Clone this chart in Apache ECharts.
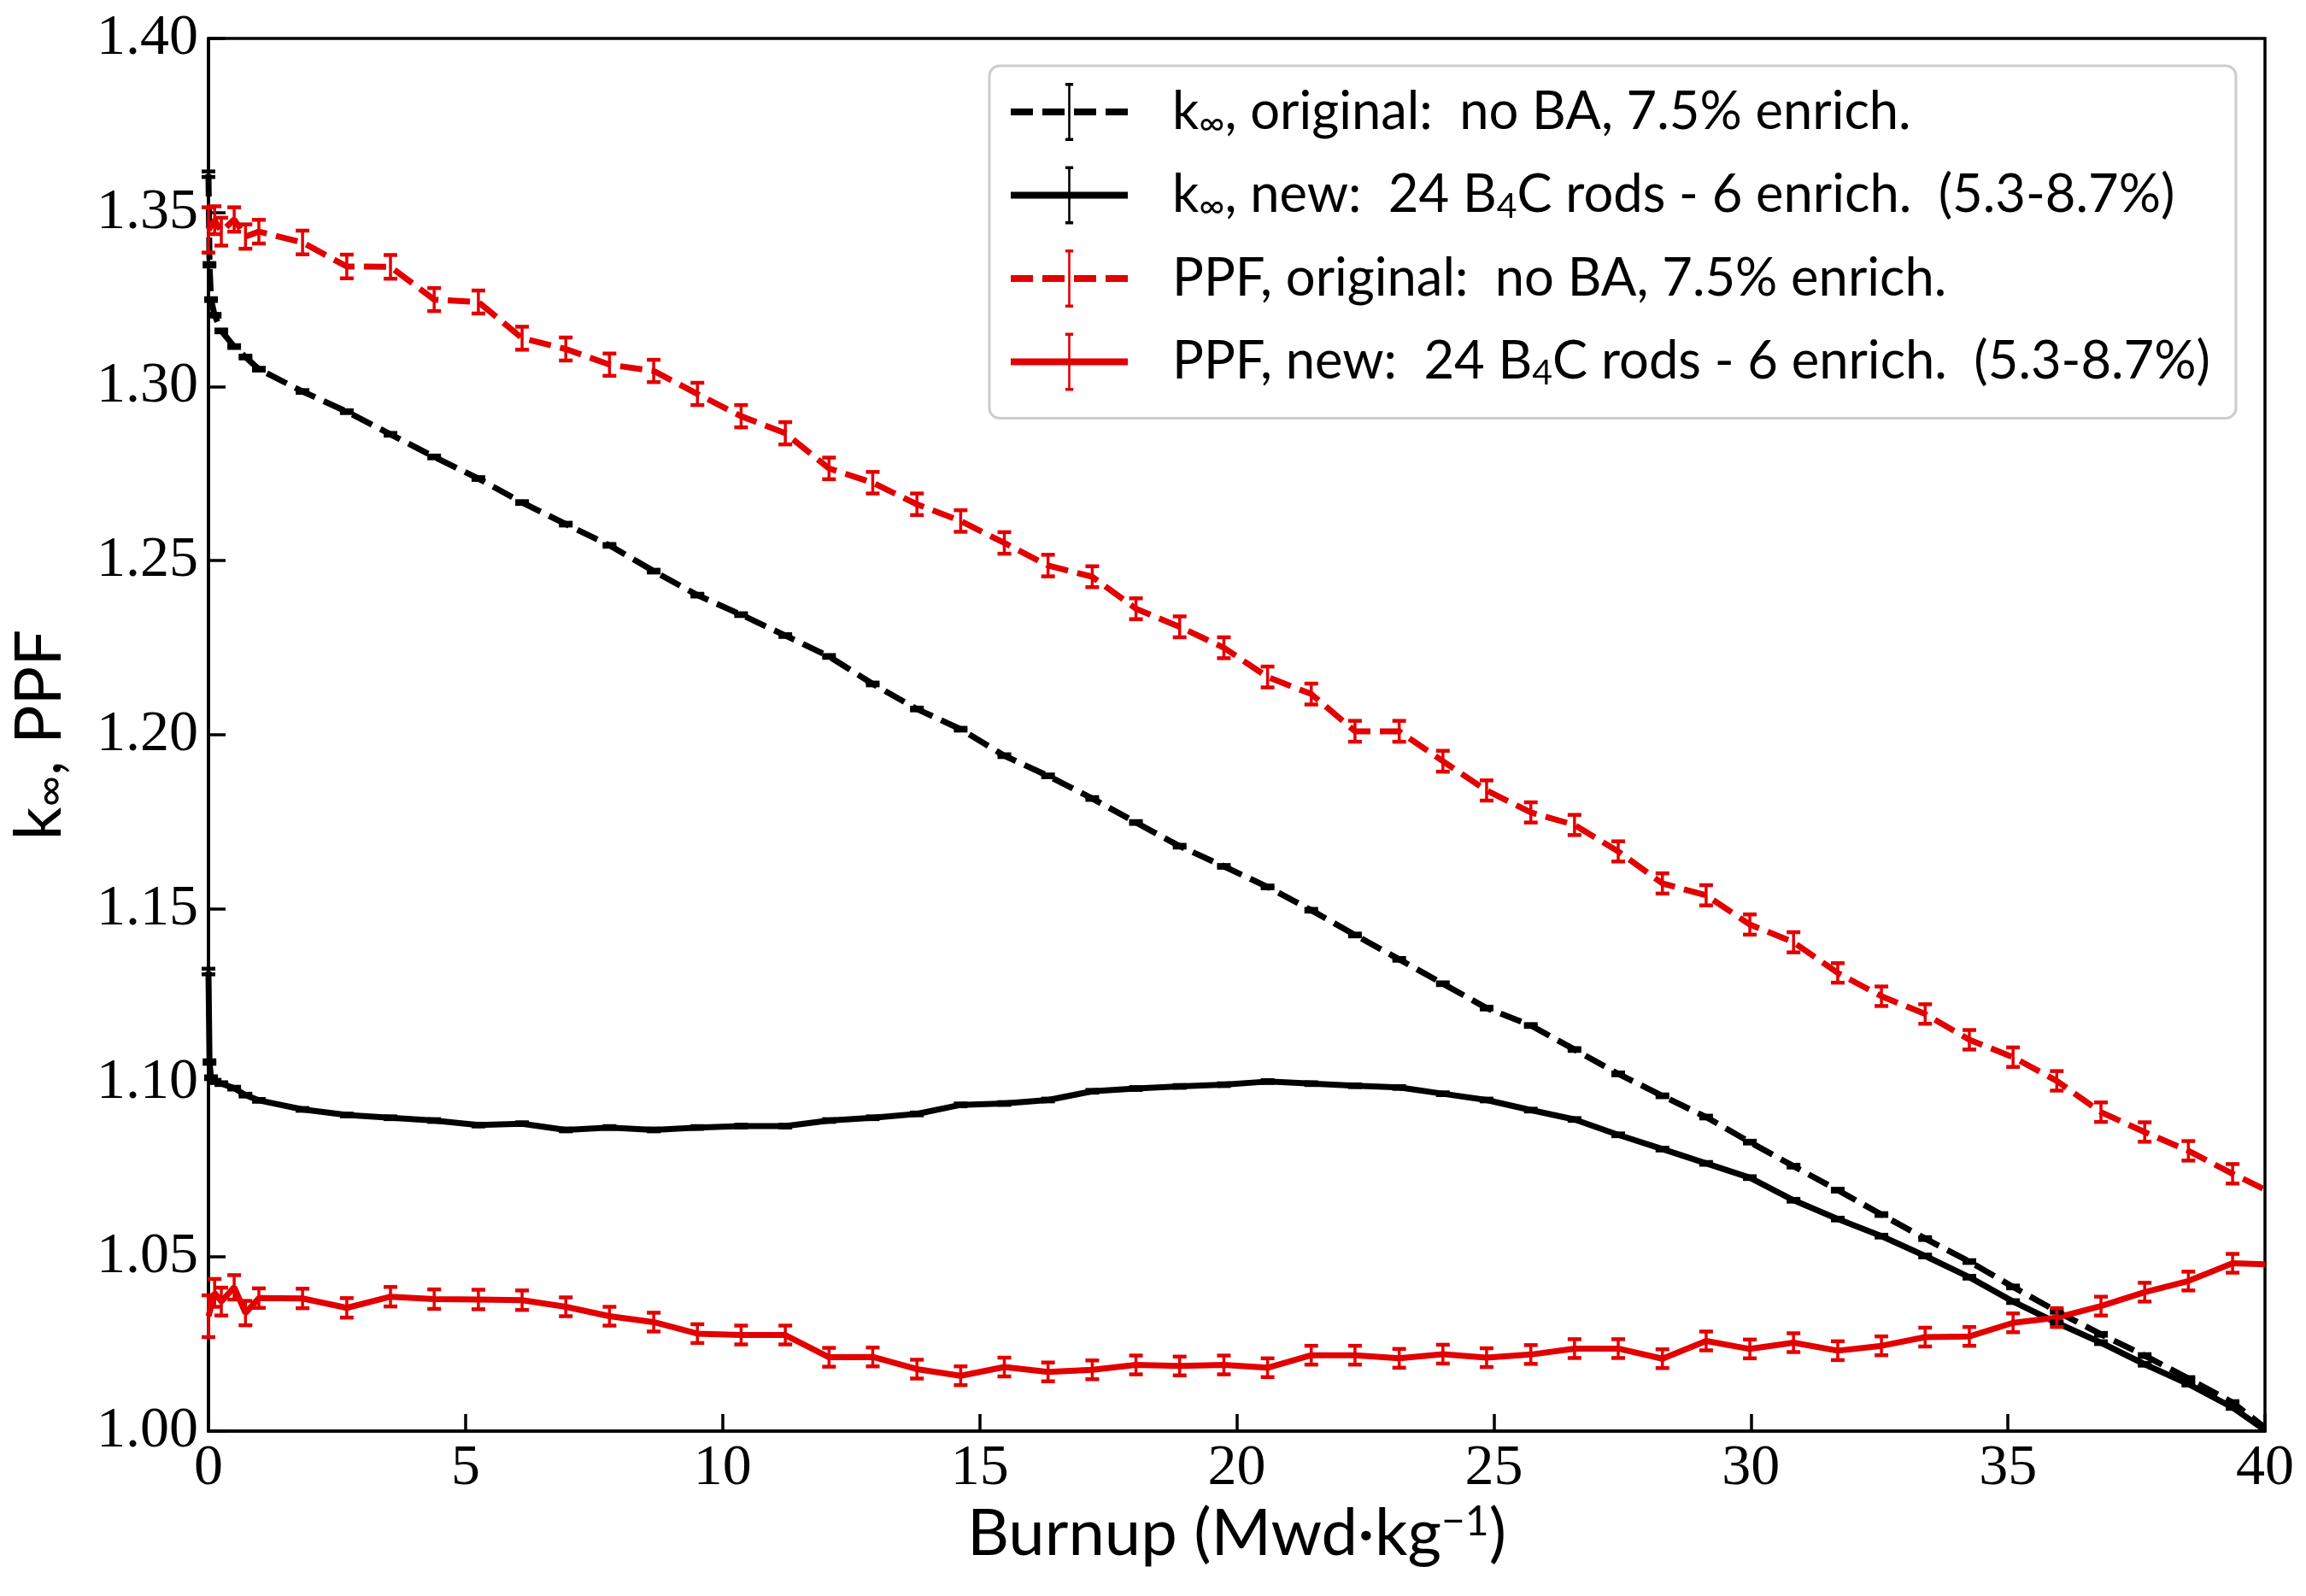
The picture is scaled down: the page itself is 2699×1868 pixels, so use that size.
<!DOCTYPE html>
<html style="height: 100%">

<head>
  <meta charset="utf-8">
</head>

<body style="height: 100%; margin: 0; background: #fff">
  <div id="container" style="width: 2699px; height: 1868px"></div>

  <script type="text/javascript" src="https://cdn.jsdelivr.net/npm/echarts@6/dist/echarts.min.js"></script>
  <script type="text/javascript">
    // burnup points (Mwd/kg)
    var burnupStartK = [0, 0.02, 0.05, 0.12, 0.25, 0.5, 0.72];
    var burnupStartPPF = [0, 0.12, 0.25, 0.5, 0.72];
    var burnupSteps = [0.98, 1.83, 2.69, 3.54, 4.39, 5.25, 6.10, 6.95, 7.80, 8.66, 9.51, 10.36, 11.22, 12.07,
      12.92, 13.78, 14.63, 15.48, 16.33, 17.19, 18.04, 18.89, 19.75, 20.60, 21.45, 22.30, 23.16, 24.01, 24.86,
      25.72, 26.57, 27.42, 28.28, 29.13, 29.98, 30.83, 31.69, 32.54, 33.39, 34.25, 35.10, 35.95, 36.81, 37.66,
      38.51, 39.37, 40.0];

    // k-inf, original (no BA)
    var kOrigStart = [1.361, 1.335, 1.325, 1.3205, 1.316, 1.3115, 1.3085];
    var kOrig = [1.3050, 1.2986, 1.2928, 1.2863, 1.2798, 1.2736, 1.2667, 1.2605, 1.2544, 1.2470, 1.2401, 1.2345,
      1.2285, 1.2225, 1.2146, 1.2074, 1.2016, 1.1940, 1.1882, 1.1817, 1.1748, 1.1680, 1.1622, 1.1563, 1.1496,
      1.1425, 1.1355, 1.1285, 1.1215, 1.1165, 1.1096, 1.1026, 1.0963, 1.0902, 1.0830, 1.0761, 1.0692, 1.0622,
      1.0553, 1.0487, 1.0414, 1.0344, 1.0278, 1.0217, 1.0151, 1.0082, 1.0010];

    // k-inf, new (24 B4C rods)
    var kNewStart = [1.132, 1.106, 1.1015, 1.1005, 1.0998, 1.0985, 1.0965];
    var kNew = [1.0950, 1.0924, 1.0908, 1.0900, 1.0892, 1.0879, 1.0883, 1.0865, 1.0872, 1.0865, 1.0872, 1.0876,
      1.0876, 1.0892, 1.0900, 1.0911, 1.0937, 1.0941, 1.0951, 1.0976, 1.0984, 1.0990, 1.0995, 1.1004, 1.0998,
      1.0992, 1.0987, 1.0969, 1.0951, 1.0922, 1.0895, 1.0851, 1.0810, 1.0769, 1.0728, 1.0663, 1.0609, 1.0560,
      1.0503, 1.0442, 1.0372, 1.0311, 1.0254, 1.0192, 1.0135, 1.0068, 1.0003];

    // PPF, original
    var ppfOrigStart = [1.3450, 1.3478, 1.3445, 1.3480, 1.3431];
    var ppfOrig = [1.3445, 1.3414, 1.3345, 1.3344, 1.3250, 1.3243, 1.3139, 1.3108, 1.3063, 1.3045, 1.2979, 1.2915,
      1.2866, 1.2765, 1.2724, 1.2662, 1.2614, 1.2551, 1.2486, 1.2454, 1.2362, 1.2310, 1.2250, 1.2166, 1.2117,
      1.2010, 1.2010, 1.1924, 1.1840, 1.1777, 1.1741, 1.1665, 1.1573, 1.1539, 1.1455, 1.1404, 1.1316, 1.1249,
      1.1198, 1.1124, 1.1074, 1.1006, 1.0916, 1.0859, 1.0805, 1.0739, 1.0694];

    // PPF, new
    var ppfNewStart = [1.0330, 1.0397, 1.0372, 1.0413, 1.0339];
    var ppfNew = [1.0382, 1.0381, 1.0354, 1.0386, 1.0379, 1.0378, 1.0376, 1.0357, 1.0330, 1.0313, 1.0280, 1.0276,
      1.0276, 1.0212, 1.0213, 1.0178, 1.0159, 1.0184, 1.0170, 1.0176, 1.0190, 1.0187, 1.0190, 1.0182, 1.0218,
      1.0218, 1.0209, 1.0221, 1.0211, 1.0220, 1.0237, 1.0237, 1.0208, 1.0259, 1.0236, 1.0254, 1.0231, 1.0245,
      1.0270, 1.0272, 1.0311, 1.0326, 1.0359, 1.0399, 1.0431, 1.0482, 1.0479];

    // one-sigma errors
    var kErrStart = [0.0008, 0.0005, 0.0004, 0.0004, 0.0004, 0.0004, 0.0004];
    var kErr = [0.0004, 0.0004, 0.0004, 0.0004, 0.0004, 0.0004, 0.0004, 0.0004, 0.0004, 0.0004, 0.0004, 0.0004,
      0.0004, 0.0004, 0.0004, 0.0004, 0.0004, 0.0004, 0.0004, 0.0004, 0.0004, 0.0004, 0.0004, 0.0004, 0.0004,
      0.0004, 0.0004, 0.0004, 0.0004, 0.0004, 0.0004, 0.0004, 0.0004, 0.0004, 0.0004, 0.0004, 0.0004, 0.0004,
      0.0004, 0.0004, 0.0004, 0.0004, 0.0004, 0.0004, 0.0004, 0.0004, 0];
    var ppfOrigErrStart = [0.0065, 0.0040, 0.0040, 0.0035, 0.0035];
    var ppfOrigErr = [0.0034, 0.0034, 0.0034, 0.0034, 0.0033, 0.0033, 0.0033, 0.0033, 0.0032, 0.0032, 0.0032,
      0.0032, 0.0032, 0.0031, 0.0031, 0.0031, 0.0031, 0.0031, 0.0031, 0.0030, 0.0030, 0.0030, 0.0030, 0.0030,
      0.0030, 0.0030, 0.0030, 0.0030, 0.0029, 0.0029, 0.0029, 0.0029, 0.0029, 0.0029, 0.0029, 0.0029, 0.0028,
      0.0028, 0.0028, 0.0028, 0.0028, 0.0028, 0.0028, 0.0028, 0.0028, 0.0028, 0];
    var ppfNewErrStart = [0.0060, 0.0040, 0.0040, 0.0035, 0.0035];
    var ppfNewErr = [0.0028, 0.0028, 0.0028, 0.0028, 0.0028, 0.0028, 0.0028, 0.0027, 0.0027, 0.0027, 0.0027,
      0.0027, 0.0027, 0.0027, 0.0027, 0.0027, 0.0027, 0.0027, 0.0027, 0.0027, 0.0027, 0.0027, 0.0027, 0.0027,
      0.0027, 0.0027, 0.0027, 0.0027, 0.0027, 0.0027, 0.0027, 0.0027, 0.0027, 0.0027, 0.0027, 0.0027, 0.0027,
      0.0027, 0.0027, 0.0027, 0.0027, 0.0027, 0.0027, 0.0027, 0.0027, 0.0027, 0];

    var yTicks = [1.00, 1.05, 1.10, 1.15, 1.20, 1.25, 1.30, 1.35, 1.40];
    var xTicks = [0, 5, 10, 15, 20, 25, 30, 35, 40];

    var seriesNames = ['kOrig', 'kNew', 'ppfOrig', 'ppfNew'];
    var legendLabels = [
      '{sp|}k{sub|∞}, original:  no BA, 7.5% enrich.',
      '{sp|}k{sub|∞}, new:  24 B{sub|4}C rods - 6 enrich.  (5.3-8.7%)',
      '{sp|}PPF, original:  no BA, 7.5% enrich.',
      '{sp|}PPF, new:  24 B{sub|4}C rods - 6 enrich.  (5.3-8.7%)'
    ];

    var RED = '#e20000';
    var BLACK = '#000000';
    var SANS = 'Lato';
    var SERIF = 'Liberation Serif';

    function pairs(xs, ys) {
      return xs.map(function (x, i) { return [x, ys[i]]; });
    }
    function triples(xs, ys, es) {
      return xs.map(function (x, i) { return [x, ys[i], es[i]]; });
    }

    var xK = burnupStartK.concat(burnupSteps);
    var xP = burnupStartPPF.concat(burnupSteps);

    // legend icons: line (solid or dashed) + error bar, drawn in a 137 x 68 box
    var barPath = 'M63.9,0 H73.1 V3.5 H69.8 V64.5 H73.1 V68 H63.9 V64.5 H67.2 V3.5 H63.9 Z';
    var solidIcon = 'path://M0,30 H137 V38 H0 Z ' + barPath;
    var dashIcon = 'path://M0,30 H26 V38 H0 Z M37,30 H63 V38 H37 Z M74,30 H100 V38 H74 Z ' +
      'M111,30 H137 V38 H111 Z ' + barPath;

    function errorBars(color) {
      return function (params, api) {
        var x = api.value(0), y = api.value(1), e = api.value(2);
        if (!e) return;
        var top = api.coord([x, y + e]);
        var bot = api.coord([x, y - e]);
        var hw = 8;
        return {
          type: 'group',
          children: [
            { type: 'line', shape: { x1: top[0], y1: top[1], x2: bot[0], y2: bot[1] }, style: { stroke: color, lineWidth: 3.5 } },
            { type: 'line', shape: { x1: top[0] - hw, y1: top[1], x2: top[0] + hw, y2: top[1] }, style: { stroke: color, lineWidth: 4.5 } },
            { type: 'line', shape: { x1: bot[0] - hw, y1: bot[1], x2: bot[0] + hw, y2: bot[1] }, style: { stroke: color, lineWidth: 4.5 } }
          ]
        };
      };
    }

    function lineSeries(name, color, dashed, data) {
      return {
        name: name,
        type: 'line',
        data: data,
        showSymbol: false,
        symbol: 'circle',
        color: color,
        itemStyle: { color: color },
        lineStyle: { color: color, width: 7, type: dashed ? [26, 11] : 'solid', cap: 'butt' },
        z: 3
      };
    }
    function barSeries(color, data) {
      return {
        type: 'custom',
        renderItem: errorBars(color),
        data: data,
        encode: { x: 0, y: 1 },
        z: 4
      };
    }

    var dom = document.getElementById('container');
    var myChart = echarts.init(dom, null, { renderer: 'canvas' });

    var option = {
      animation: false,
      backgroundColor: '#fff',
      grid: {
        left: 232,
        right: 48,
        top: 45,
        bottom: 193,
        show: true,
        borderColor: '#000',
        borderWidth: 3.5
      },
      legend: {
        orient: 'vertical',
        left: 1158,
        top: 77,
        padding: [20, 30, 32, 25],
        itemWidth: 137,
        itemHeight: 68,
        itemGap: 29.5,
        selectedMode: false,
        backgroundColor: '#fff',
        borderColor: '#cccccc',
        borderWidth: 3,
        borderRadius: 12,
        itemStyle: { borderWidth: 0 },
        data: [
          { name: seriesNames[0], icon: dashIcon },
          { name: seriesNames[1], icon: solidIcon },
          { name: seriesNames[2], icon: dashIcon },
          { name: seriesNames[3], icon: solidIcon }
        ],
        formatter: function (name) {
          return legendLabels[seriesNames.indexOf(name)];
        },
        textStyle: {
          fontFamily: SANS,
          fontSize: 61.5,
          color: '#000',
          lineHeight: 68,
          rich: {
            sp: { width: 47 },
            sub: { fontFamily: SANS, fontSize: 41, verticalAlign: 'bottom', lineHeight: 56 }
          }
        }
      },
      xAxis: {
        type: 'value',
        min: xTicks[0],
        max: xTicks[xTicks.length - 1],
        interval: 5,
        name: 'Burnup (Mwd·kg{sup|−1})',
        nameLocation: 'middle',
        nameGap: 82,
        nameTextStyle: {
          fontFamily: SANS,
          fontSize: 76,
          color: '#000',
          verticalAlign: 'top',
          rich: { sup: { fontFamily: SANS, fontSize: 48, verticalAlign: 'top', lineHeight: 60 } }
        },
        axisLine: { show: true, lineStyle: { color: '#000', width: 3.5 } },
        axisTick: { show: true, inside: true, length: 20, lineStyle: { color: '#000', width: 3.5 } },
        axisLabel: {
          margin: 10,
          fontFamily: SERIF,
          fontSize: 68,
          color: '#000'
        },
        splitLine: { show: false }
      },
      yAxis: {
        type: 'value',
        min: yTicks[0],
        max: yTicks[yTicks.length - 1],
        interval: 0.05,
        name: 'k{sub|∞}, PPF',
        nameLocation: 'middle',
        nameGap: 160,
        nameTextStyle: {
          fontFamily: SANS,
          fontSize: 76,
          color: '#000',
          rich: { sub: { fontFamily: SANS, fontSize: 50, verticalAlign: 'bottom', lineHeight: 70 } }
        },
        axisLine: { show: true, lineStyle: { color: '#000', width: 3.5 } },
        axisTick: { show: true, inside: true, length: 20, lineStyle: { color: '#000', width: 3.5 } },
        axisLabel: {
          margin: 12,
          fontFamily: SERIF,
          fontSize: 68,
          color: '#000',
          formatter: function (v) { return v.toFixed(2); }
        },
        splitLine: { show: false }
      },
      series: [
        lineSeries(seriesNames[0], BLACK, true, pairs(xK, kOrigStart.concat(kOrig))),
        barSeries(BLACK, triples(xK, kOrigStart.concat(kOrig), kErrStart.concat(kErr))),
        lineSeries(seriesNames[1], BLACK, false, pairs(xK, kNewStart.concat(kNew))),
        barSeries(BLACK, triples(xK, kNewStart.concat(kNew), kErrStart.concat(kErr))),
        lineSeries(seriesNames[2], RED, true, pairs(xP, ppfOrigStart.concat(ppfOrig))),
        barSeries(RED, triples(xP, ppfOrigStart.concat(ppfOrig), ppfOrigErrStart.concat(ppfOrigErr))),
        lineSeries(seriesNames[3], RED, false, pairs(xP, ppfNewStart.concat(ppfNew))),
        barSeries(RED, triples(xP, ppfNewStart.concat(ppfNew), ppfNewErrStart.concat(ppfNewErr)))
      ]
    };

    if (option && typeof option === 'object') {
      myChart.setOption(option);
    }

    window.addEventListener('resize', myChart.resize);
  </script>
</body>

</html>
